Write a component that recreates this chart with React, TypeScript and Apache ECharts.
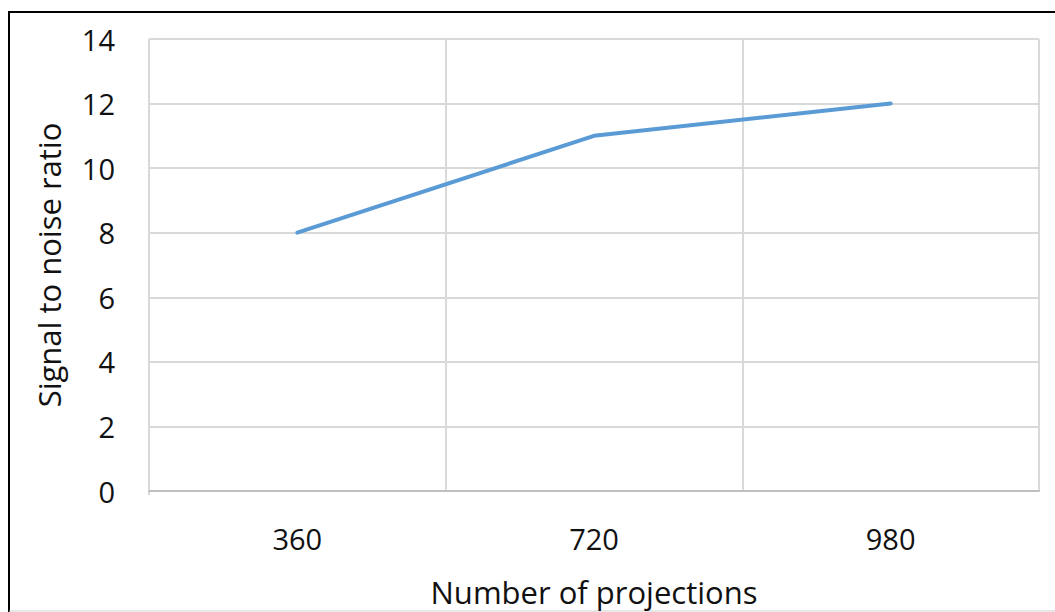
import React, { useEffect, useRef } from "react";
import * as echarts from "echarts";

const categories = ["360", "720", "980"];
const snrValues = [8, 11, 12];
const yTicks = { min: 0, max: 14, interval: 2 };

const FONT = "'Open Sans', 'Noto Sans', sans-serif";

export default function App() {
  const ref = useRef<HTMLDivElement>(null);

  useEffect(() => {
    document.body.style.margin = "0";
    const chart = echarts.init(ref.current!, null, { renderer: "svg" });
    chart.setOption({
      animation: false,
      backgroundColor: "#ffffff",
      grid: { left: 149, right: 16, top: 39, bottom: 117 },
      xAxis: {
        type: "category",
        data: categories,
        boundaryGap: true,
        name: "Number of projections",
        nameLocation: "middle",
        nameGap: 85,
        nameTextStyle: { fontFamily: FONT, fontSize: 31, color: "#111" },
        axisLine: { lineStyle: { color: "#bfbfbf", width: 2 } },
        axisTick: { show: false },
        axisLabel: { fontFamily: FONT, fontSize: 29, color: "#111", margin: 33 },
        splitLine: { show: true, lineStyle: { color: "#d9d9d9", width: 2 } },
      },
      yAxis: {
        type: "value",
        min: yTicks.min,
        max: yTicks.max,
        interval: yTicks.interval,
        name: "Signal to noise ratio",
        nameLocation: "middle",
        nameGap: 85,
        nameTextStyle: { fontFamily: FONT, fontSize: 31, color: "#111" },
        axisLine: { show: false },
        axisTick: { show: false },
        axisLabel: { fontFamily: FONT, fontSize: 29, color: "#111", margin: 34 },
        splitLine: { show: true, lineStyle: { color: "#d9d9d9", width: 2 } },
      },
      series: [
        {
          type: "line",
          data: snrValues,
          symbol: "none",
          lineStyle: { color: "#5b9bd5", width: 4, cap: "round" },
        },
      ],
      graphic: [
        {
          type: "polyline",
          shape: { points: [[9, 612], [9, 12], [1055, 12]] },
          style: { stroke: "#000", lineWidth: 2, fill: "none" },
          silent: true,
        },
        {
          type: "line",
          shape: { x1: 9, y1: 611, x2: 1055, y2: 611 },
          style: { stroke: "#d0d0d0", lineWidth: 1 },
          silent: true,
        },
        {
          type: "line",
          shape: { x1: 149, y1: 39, x2: 149, y2: 495 },
          style: { stroke: "#d9d9d9", lineWidth: 2 },
          silent: true,
        },
      ],
    });
    return () => chart.dispose();
  }, []);

  return <div ref={ref} style={{ width: 1055, height: 612 }} />;
}
